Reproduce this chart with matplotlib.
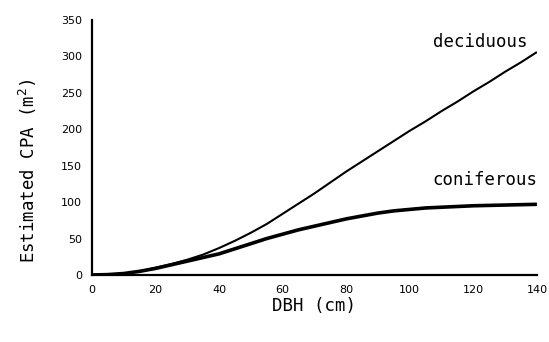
import matplotlib
matplotlib.use("Agg")
import matplotlib.pyplot as plt

dbh = [0, 5, 10, 15, 20, 25, 30, 35, 40, 45, 50, 55, 60, 65, 70,
       75, 80, 85, 90, 95, 100, 105, 110, 115, 120, 125, 130, 135, 140]
deciduous = [0, 0.5, 2, 5, 10, 15, 21, 28, 37, 47, 58, 70, 84, 98, 112,
             127, 142, 156, 170, 184, 198, 211, 225, 238, 252, 265, 279, 292, 306]
coniferous = [0, 0.5, 2, 5, 9, 14, 19, 24, 29, 36, 43, 50, 56, 62, 67,
              72, 77, 81, 85, 88, 90, 92, 93, 94, 95, 95.5, 96, 96.5, 97]
xticks = [0, 20, 40, 60, 80, 100, 120, 140]
yticks = [0, 50, 100, 150, 200, 250, 300, 350]

mono = "DejaVu Sans Mono"

fig = plt.figure(figsize=(5.49, 3.42), dpi=100)
ax = fig.add_axes([0.1676, 0.196, 0.8104, 0.7455])

ax.plot(dbh, deciduous, color="black", lw=1.5, solid_capstyle="butt", solid_joinstyle="round")
ax.plot(dbh, coniferous, color="black", lw=2.6, solid_capstyle="butt", solid_joinstyle="round")

ax.set_xlim(0, 140)
ax.set_ylim(0, 350)
ax.set_xticks(xticks)
ax.set_yticks(yticks)
ax.tick_params(length=0, labelsize=8, pad=7)
for s in ["top", "right"]:
    ax.spines[s].set_visible(False)
for s in ["left", "bottom"]:
    ax.spines[s].set_linewidth(1.6)

ax.text(137, 320, "deciduous", family=mono, fontsize=12.5, ha="right", va="center")
ax.text(140, 130, "coniferous", family=mono, fontsize=12.5, ha="right", va="center")

ax.set_xlabel("DBH (cm)", family=mono, fontsize=12.5, labelpad=2)
ax.set_ylabel("Estimated CPA (m$^2$)", family=mono, fontsize=12.5)
ax.yaxis.set_label_coords(-0.119, 0.41)

fig.savefig("out.png", dpi=100)
